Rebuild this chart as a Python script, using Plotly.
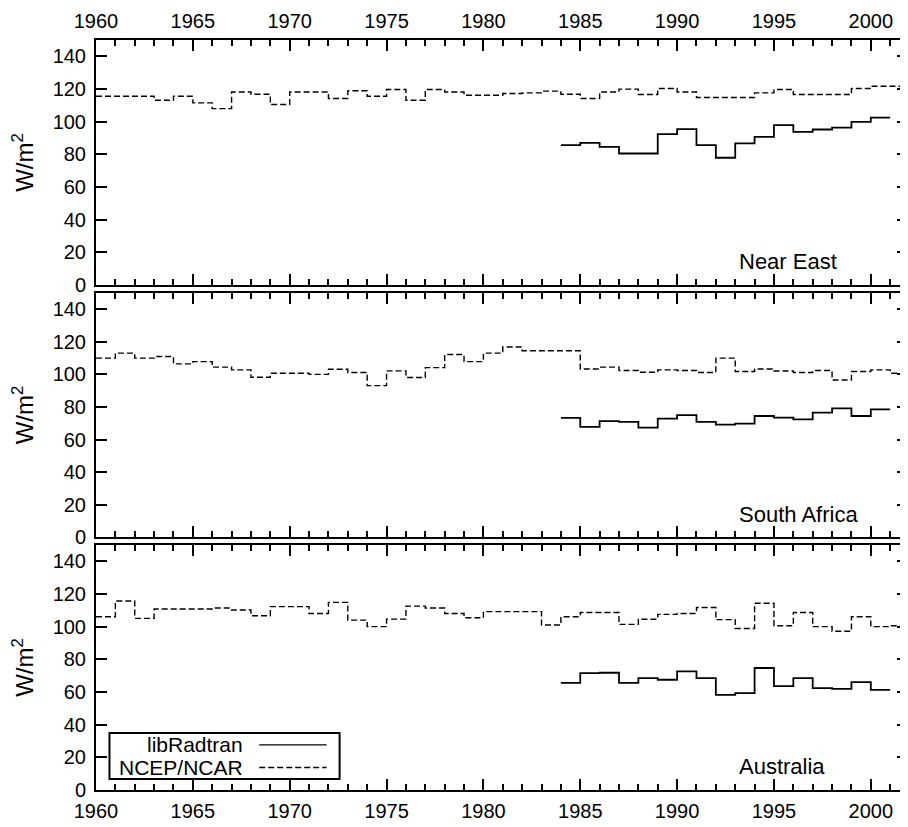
import plotly.graph_objects as go

years = list(range(1960, 2002))
lib_years = list(range(1984, 2001))

ne_ncep = [115.6, 115.6, 115.6, 113.1, 115.6, 111.5, 108.0, 118.2, 116.8, 110.5,
           118.2, 118.2, 114.2, 118.9, 115.6, 119.7, 113.1, 119.7, 118.2, 116.2,
           116.2, 117.2, 117.6, 118.7, 116.8, 114.2, 118.2, 119.9, 116.6, 120.3,
           118.2, 114.8, 114.8, 114.8, 117.6, 119.7, 116.6, 116.6, 116.6, 120.3,
           121.7, 121.7]
ne_lib = [85.6, 87.0, 84.6, 80.5, 80.5, 92.4, 95.4, 85.6, 77.9, 86.7, 90.7, 97.9,
          93.8, 95.2, 96.4, 99.9, 102.5]

sa_ncep = [109.8, 112.9, 109.8, 110.8, 106.3, 107.7, 104.3, 102.6, 98.1, 100.6,
           100.6, 99.9, 103.0, 101.0, 93.0, 102.0, 98.0, 104.0, 112.0, 107.7,
           112.9, 116.6, 114.3, 114.3, 114.3, 103.2, 104.3, 102.2, 101.2, 102.6,
           102.2, 101.0, 109.8, 101.6, 103.2, 101.9, 101.0, 102.2, 96.4, 101.6,
           102.6, 100.6]
sa_lib = [73.2, 67.7, 71.2, 70.8, 67.3, 72.8, 74.9, 70.8, 69.1, 69.7, 74.4, 73.4,
          72.3, 76.5, 79.0, 74.4, 78.4]

au_ncep = [106.1, 115.7, 105.1, 110.8, 110.8, 110.8, 111.4, 110.2, 106.7, 112.3,
           112.3, 108.1, 114.9, 104.0, 100.0, 104.6, 112.6, 111.4, 108.1, 105.5,
           109.2, 109.2, 109.2, 101.0, 106.1, 108.7, 108.7, 101.4, 104.5, 107.5,
           108.1, 111.7, 104.3, 98.9, 114.3, 100.6, 108.7, 100.0, 97.2, 106.1,
           100.0, 100.6]
au_lib = [65.6, 71.6, 71.8, 65.6, 68.5, 67.5, 72.6, 68.5, 58.2, 59.3, 74.7, 63.6,
          68.5, 62.4, 61.9, 66.0, 61.3]

regions = ["Near East", "South Africa", "Australia"]
ncep_series = [ne_ncep, sa_ncep, au_ncep]
lib_series = [ne_lib, sa_lib, au_lib]
y_ticks = [0, 20, 40, 60, 80, 100, 120, 140]
x_ticks = [1960, 1965, 1970, 1975, 1980, 1985, 1990, 1995, 2000]
legend_names = ["libRadtran", "NCEP/NCAR"]

FONT = "Liberation Sans, Arial, Helvetica, sans-serif"
# the page body has an 8px margin, so the figure is sized to end at the window edge
W, H = 900, 819
T, B, L, R = 32, 37, 88, 0
domains = [[0.67333, 1.0], [0.33667, 0.66333], [0.0, 0.32667]]
XMAX = 2001.92

fig = go.Figure()


def step(xs, ys):
    return list(xs) + [xs[-1] + 1], list(ys) + [ys[-1]]


for i in range(3):
    sfx = "" if i == 0 else str(i + 1)
    xs, ys = step(years, ncep_series[i])
    fig.add_trace(go.Scatter(x=xs, y=ys, mode="lines", line_shape="hv",
                             line=dict(color="black", width=1.4, dash="6px,3px"),
                             xaxis="x" + sfx, yaxis="y" + sfx, showlegend=False,
                             name=legend_names[1]))
    xs, ys = step(lib_years, lib_series[i])
    fig.add_trace(go.Scatter(x=xs, y=ys, mode="lines", line_shape="hv",
                             line=dict(color="black", width=1.8),
                             xaxis="x" + sfx, yaxis="y" + sfx, showlegend=False,
                             name=legend_names[0]))

    xa = dict(domain=[0, 1], range=[1960, XMAX], anchor="y" + sfx,
              tickvals=x_ticks, ticks="inside", ticklen=11, tickwidth=2,
              tickcolor="black", showline=True, linewidth=2, linecolor="black",
              mirror="allticks", showgrid=False, zeroline=False, automargin=False,
              ticklabelstandoff=2,
              tickfont=dict(family=FONT, size=20, color="black"),
              minor=dict(dtick=1, tick0=1960, ticks="inside", ticklen=6,
                         tickwidth=1.5, tickcolor="black", showgrid=False),
              showticklabels=(i != 1),
              side="top" if i == 0 else "bottom")
    ya = dict(domain=domains[i], range=[0, 150], anchor="x" + sfx,
              tickvals=y_ticks, ticks="inside", ticklen=11, tickwidth=2,
              tickcolor="black", showline=True, linewidth=2, linecolor="black",
              mirror="allticks", showgrid=False, zeroline=False, automargin=False,
              ticklabelstandoff=4,
              tickfont=dict(family=FONT, size=20, color="black"),
              title=dict(text="W/m<sup>2</sup>", standoff=12,
                         font=dict(family=FONT, size=24, color="black")))
    fig.layout["xaxis" + sfx] = xa
    fig.layout["yaxis" + sfx] = ya

    fig.add_annotation(text=regions[i], xref="x" + sfx + " domain",
                       yref="y" + sfx + " domain", x=0.789, y=0.095,
                       showarrow=False, xanchor="left", yanchor="middle",
                       font=dict(family=FONT, size=22, color="black"))

# legend box in the bottom panel
fig.add_shape(type="rect", xref="x3 domain", yref="y3 domain",
              x0=0.0166, x1=0.300, y0=0.045, y1=0.233,
              line=dict(color="black", width=2), fillcolor="white", layer="above")
fig.add_annotation(text=legend_names[0], xref="x3 domain", yref="y3 domain",
                   x=0.184, y=0.184, xanchor="right", yanchor="middle",
                   showarrow=False, font=dict(family=FONT, size=21, color="black"))
fig.add_annotation(text=legend_names[1], xref="x3 domain", yref="y3 domain",
                   x=0.184, y=0.092, xanchor="right", yanchor="middle",
                   showarrow=False, font=dict(family=FONT, size=21, color="black"))
fig.add_shape(type="line", xref="x3 domain", yref="y3 domain",
              x0=0.201, x1=0.284, y0=0.184, y1=0.184,
              line=dict(color="black", width=1.4), layer="above")
fig.add_shape(type="line", xref="x3 domain", yref="y3 domain",
              x0=0.201, x1=0.284, y0=0.092, y1=0.092,
              line=dict(color="black", width=1.4, dash="6px,3px"), layer="above")

fig.update_layout(width=W, height=H, margin=dict(l=L, r=R, t=T, b=B),
                  paper_bgcolor="white", plot_bgcolor="white", showlegend=False,
                  font=dict(family=FONT, size=20, color="black"))

fig.write_html("out.html")
